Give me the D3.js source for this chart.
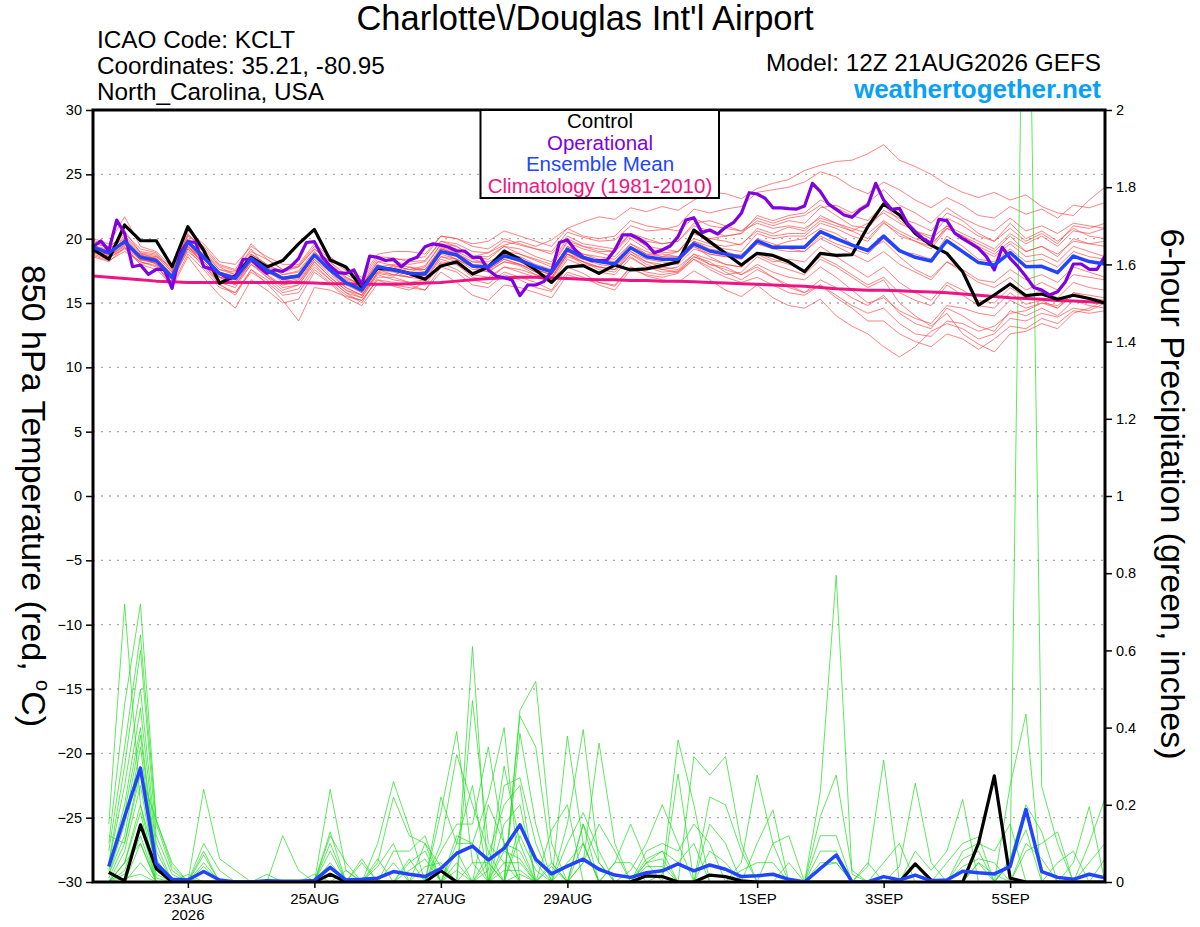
<!DOCTYPE html>
<html><head><meta charset="utf-8">
<script src="https://cdn.jsdelivr.net/npm/d3@7"></script>
<style>body{margin:0;background:#fff}svg{display:block}text{font-family:"Liberation Sans",Arial,Helvetica,sans-serif}</style>
</head><body>
<svg id="c" width="1200" height="927"></svg>
<script>
// ---------------- DATA ----------------
const tempTicks = [-30,-25,-20,-15,-10,-5,0,5,10,15,20,25,30];
const precipTicks = [0,0.2,0.4,0.6,0.8,1,1.2,1.4,1.6,1.8,2];
const xTickHours = [36,84,132,180,252,300,348];
const xTickLabels = ["23AUG","25AUG","27AUG","29AUG","1SEP","3SEP","5SEP"];
const legendLabels = ["Control","Operational","Ensemble Mean","Climatology (1981-2010)"];

// 850 hPa temperature, 6-hourly from 12Z 21AUG (hour 0..384)
const controlTemp = [19.17,18.4,21.06,19.84,19.84,17.82,20.93,19.1,16.53,17.1,18.55,17.8,18.3,19.6,20.72,18.34,17.8,16.2,17.7,17.6,17.3,16.84,17.88,18.2,17.25,17.8,19.04,18.4,17.57,16.6,17.8,17.9,17.3,17.95,17.57,17.65,17.9,18.2,20.67,19.77,18.86,17.95,18.86,18.7,18.2,17.43,18.86,18.7,18.75,20.93,22.7,21.84,20.4,19.5,18.86,17.43,14.84,15.62,16.48,15.57,15.7,15.29,15.6,15.35,15.0];
const meanTemp = [19.33,18.9,19.77,18.55,18.3,17.0,19.77,18.55,17.3,16.92,18.47,17.57,16.92,17.1,18.73,17.57,16.58,16.0,17.82,17.57,17.3,17.25,18.99,18.73,17.88,17.82,18.65,18.34,17.82,17.43,19.17,18.55,18.22,18.03,19.3,18.6,18.4,18.4,19.6,19.04,18.8,18.55,19.82,19.33,19.33,19.33,20.54,20.0,19.5,19.07,20.2,19.07,18.55,18.26,19.84,18.99,18.14,17.95,18.92,17.82,17.85,17.36,18.65,18.22,18.03];
const climTemp = [17.1,17.0,16.9,16.8,16.7,16.65,16.6,16.6,16.6,16.6,16.6,16.6,16.6,16.6,16.55,16.5,16.5,16.45,16.45,16.45,16.5,16.55,16.6,16.7,16.8,16.9,16.95,17.0,17.0,16.95,16.9,16.85,16.8,16.8,16.75,16.75,16.7,16.7,16.65,16.6,16.55,16.5,16.45,16.4,16.35,16.3,16.2,16.1,16.05,16.0,16.0,15.95,15.9,15.85,15.8,15.7,15.6,15.5,15.4,15.35,15.3,15.2,15.15,15.1,15.0];
// operational, 3-hourly (hour 0..384)
const operTemp = [
19.38,19.82,19.07,21.45,20.41,17.82,17.95,17.23,
17.62,17.62,16.14,18.86,19.77,19.7,17.82,17.62,
17.3,16.96,17.0,18.4,18.4,17.82,17.3,17.57,
17.45,17.82,18.45,19.7,19.77,18.6,17.88,17.36,
17.3,17.57,16.4,18.65,18.55,18.3,18.4,17.82,
18.33,18.55,19.38,19.6,19.5,19.33,19.04,19.04,
18.55,18.55,17.57,17.1,16.96,16.79,15.57,16.4,
16.4,16.66,17.43,19.7,19.9,19.12,18.55,18.3,
18.3,18.33,19.12,20.3,20.3,20.0,19.6,18.9,
19.12,19.43,20.16,21.45,21.63,20.47,20.67,20.36,
20.88,21.24,21.97,23.57,23.47,23.14,22.4,22.4,
22.33,22.3,22.54,24.3,23.65,22.7,22.28,21.84,
21.66,22.23,22.6,24.3,23.0,22.28,22.36,21.19,
20.54,20.0,19.64,21.5,21.4,20.42,20.0,19.64,
19.25,18.6,17.57,19.33,18.47,17.82,17.05,16.2,
16.0,15.62,15.88,16.66,18.03,18.03,17.62,17.62,
18.65];
// ensemble members, 6-hourly
const memberTemp = [
[19.6,19.4,20.2,19.0,18.8,17.6,20.3,19.2,17.9,17.5,19.0,18.4,17.6,17.9,19.4,18.4,17.5,16.8,18.6,18.5,18.2,18.3,19.8,19.6,19.0,18.9,19.8,19.5,19.2,19.0,20.5,20.1,19.8,19.9,21.0,20.6,20.7,21.0,22.3,22.0,22.3,22.5,23.6,23.8,24.0,24.4,25.2,24.8,24.0,23.5,24.4,23.8,23.0,22.4,23.2,22.6,21.8,21.6,22.5,21.9,22.3,21.6,22.6,22.4,22.8],
[19.1,18.6,19.5,18.8,18.0,16.8,19.5,18.0,16.6,16.2,18.0,17.0,16.0,16.4,18.2,17.0,16.0,15.4,17.4,17.9,17.6,17.9,19.5,19.2,18.6,18.9,19.5,19.8,19.4,19.9,20.8,21.3,21.7,21.5,22.4,22.1,22.5,22.2,23.0,23.6,23.5,23.1,23.9,24.3,24.6,25.3,25.7,26.0,26.1,26.6,27.3,26.1,25.6,25.0,24.2,23.6,23.2,23.6,23.0,23.4,22.5,22.0,21.8,23.0,24.0],
[18.9,18.5,19.2,18.2,17.9,16.6,19.4,18.0,16.5,15.6,17.6,16.8,15.8,16.1,17.8,16.8,15.8,15.0,17.0,17.0,16.6,16.4,18.1,17.6,16.8,16.5,17.4,17.0,16.6,16.0,17.8,17.3,16.6,16.3,17.8,17.1,16.8,16.6,17.5,16.8,16.0,15.5,16.4,15.4,14.8,14.6,15.3,14.0,13.2,12.6,11.6,10.8,11.6,12.8,13.4,13.0,12.2,12.6,13.8,13.6,14.2,13.9,14.6,14.4,15.0],
[19.4,19.0,20.6,18.9,18.4,17.3,20.0,19.0,17.8,17.2,18.8,18.0,17.2,17.5,19.0,17.8,16.9,16.4,18.0,17.5,17.2,17.0,18.6,18.2,17.4,17.5,18.2,17.9,17.2,16.9,18.8,18.0,17.8,17.6,19.0,18.2,18.0,18.3,19.4,18.6,18.0,17.8,18.9,18.4,18.0,17.6,18.6,18.0,17.2,16.4,17.0,15.8,15.2,14.8,16.4,15.6,14.8,14.6,15.8,14.9,15.2,14.6,15.8,15.4,15.2],
[19.8,19.2,20.0,18.4,18.6,17.8,19.6,18.8,17.0,16.4,18.2,17.2,16.4,16.8,18.4,17.2,16.2,15.6,17.3,17.1,17.8,17.6,19.3,19.0,18.4,18.0,19.0,18.8,18.3,17.8,19.7,19.2,18.9,18.6,20.0,19.2,18.9,19.0,20.4,20.0,19.8,19.5,20.8,20.4,20.9,20.6,21.8,21.2,20.6,20.0,21.3,20.2,19.8,19.2,20.8,20.2,19.6,19.0,20.2,19.0,19.4,18.6,20.0,19.6,19.4],
[18.6,18.2,19.3,18.0,17.6,16.4,18.8,17.6,16.2,15.8,17.6,16.5,15.2,13.6,16.2,16.0,15.5,15.2,16.8,16.3,16.0,16.6,18.2,18.0,17.0,16.8,17.8,17.4,17.0,16.6,18.4,17.9,17.4,17.2,18.5,17.8,17.4,17.5,18.6,18.2,17.4,16.8,17.6,17.0,16.4,15.8,16.8,16.2,15.4,14.8,15.6,14.2,13.4,13.0,14.6,14.0,13.2,12.8,14.4,14.0,14.6,14.0,15.2,14.8,14.6],
[19.0,18.8,19.6,18.6,18.0,16.2,18.6,17.0,15.6,14.6,16.8,16.0,15.0,15.3,17.4,16.5,15.4,14.8,16.5,16.4,16.2,16.0,17.8,17.4,16.4,16.2,17.2,16.8,16.2,15.9,17.4,17.0,16.4,16.0,17.6,17.2,17.0,17.3,18.4,17.8,17.2,17.4,18.6,18.0,17.6,17.2,18.4,17.8,17.0,16.2,16.8,15.0,14.0,13.2,14.2,12.6,11.8,11.2,12.6,12.8,13.4,13.0,14.2,14.6,15.2],
[20.0,19.6,21.7,19.4,19.0,17.8,20.6,19.6,18.2,18.0,19.4,18.6,18.0,18.0,19.6,18.6,17.6,17.0,18.8,19.0,19.0,18.8,20.2,20.0,19.4,19.2,20.0,19.6,19.2,18.8,20.2,19.6,19.4,19.2,20.4,20.0,19.6,19.8,21.0,20.6,20.2,20.4,21.4,21.0,21.4,21.2,22.4,22.6,22.0,22.8,23.8,22.6,22.0,21.2,22.4,21.6,21.0,20.6,21.6,20.6,21.0,20.4,21.2,21.0,20.8],
[19.2,18.6,19.4,18.0,18.2,17.2,19.2,18.2,17.0,16.8,18.6,17.8,16.8,16.6,18.4,17.4,16.2,15.6,17.6,17.2,17.0,17.2,19.0,18.4,17.6,17.6,18.4,18.0,17.6,17.2,19.0,18.4,18.0,17.8,19.0,18.4,18.2,18.0,19.2,18.8,18.6,18.8,19.6,19.4,19.8,20.0,20.8,20.4,19.6,19.2,19.8,18.6,17.6,17.0,18.2,17.4,16.6,16.2,17.0,16.0,16.6,16.0,17.2,17.0,16.8],
[18.8,18.4,20.0,18.8,18.6,17.4,20.4,19.0,17.6,17.4,19.2,17.6,17.0,17.2,18.8,17.6,16.8,16.2,17.8,18.0,17.8,17.4,19.2,18.8,18.2,18.2,18.8,18.6,18.0,17.6,19.4,18.8,18.6,18.4,19.6,18.8,18.8,18.6,19.8,19.2,19.0,18.6,20.0,19.6,19.2,19.0,20.2,19.6,19.2,18.8,20.0,19.0,18.8,18.4,20.2,19.4,18.4,18.2,19.2,18.2,18.4,17.8,19.0,18.6,18.4],
[19.5,19.0,19.9,18.4,18.1,16.8,19.9,18.4,17.2,16.6,18.2,17.4,16.8,17.0,18.6,17.8,16.6,15.8,17.6,17.8,17.4,17.8,19.6,19.4,18.6,18.4,19.4,19.2,18.6,18.2,20.0,19.4,19.0,19.0,20.4,19.8,19.6,19.8,21.2,21.4,21.0,20.6,21.6,21.2,21.6,21.8,22.6,21.8,21.0,20.8,22.2,21.6,21.2,20.6,22.0,21.4,20.4,19.8,21.2,20.0,20.6,19.8,20.8,20.2,20.0],
[19.0,18.8,19.8,18.6,18.4,17.0,19.6,18.4,17.2,16.8,18.4,17.6,16.6,16.9,18.6,17.4,16.4,15.8,17.6,17.4,17.0,16.8,18.4,18.0,17.2,17.0,17.8,17.6,17.2,16.8,18.6,18.2,17.8,17.6,18.8,18.0,17.6,17.4,18.4,17.6,17.0,16.6,17.0,16.4,15.8,15.6,16.4,15.4,14.6,13.6,13.6,12.6,12.0,11.6,12.6,12.2,11.4,12.2,13.2,13.0,13.8,13.4,14.4,14.2,14.4],
[19.3,19.1,19.6,18.3,18.2,17.1,19.4,18.4,17.0,16.4,18.0,17.2,16.2,16.4,18.0,16.8,15.8,15.4,17.2,16.8,16.6,16.8,18.6,18.4,17.8,17.4,18.2,18.0,17.4,17.0,18.8,18.4,18.2,18.0,19.4,18.8,18.6,18.6,19.8,19.4,19.2,19.0,20.4,20.0,20.2,20.2,21.2,20.8,20.2,19.8,21.2,20.4,19.8,19.4,21.0,20.0,19.2,18.6,19.6,18.6,18.8,18.2,19.4,19.0,18.6],
[19.6,18.8,19.7,18.7,18.4,16.9,19.7,18.7,17.4,17.1,18.7,17.9,17.2,17.4,18.9,17.9,17.0,16.4,18.2,17.9,17.6,17.6,19.2,18.9,18.2,18.0,18.8,18.4,17.8,17.5,19.4,18.8,18.4,18.2,19.6,19.0,18.6,19.0,20.4,20.0,20.2,20.4,21.8,21.4,21.8,22.0,23.0,22.4,21.8,21.4,22.6,21.4,20.6,20.2,21.6,21.0,20.2,19.8,20.8,19.8,20.4,19.6,21.0,20.8,21.2],
[18.7,18.3,19.0,18.2,17.8,16.6,19.2,17.8,16.4,15.8,17.4,16.6,15.6,15.8,17.6,16.6,15.6,15.2,16.8,16.6,16.4,16.0,17.4,16.6,15.6,15.2,16.4,16.2,15.8,15.4,17.2,16.8,16.6,16.4,17.8,17.4,17.2,17.4,18.6,18.0,17.8,17.2,18.0,17.4,17.0,16.8,17.8,17.0,16.0,15.0,15.4,14.4,13.8,13.4,14.8,14.6,14.2,14.0,15.2,14.6,15.0,14.6,15.6,15.4,15.0],
[19.9,19.3,20.4,19.2,18.9,17.5,20.2,19.4,18.0,17.6,19.6,18.4,17.6,17.8,19.2,18.2,17.2,16.6,18.4,18.2,18.0,18.2,19.8,19.4,18.6,18.6,19.4,18.8,18.4,18.0,19.8,19.4,19.2,19.0,20.2,19.4,19.2,19.0,20.0,19.6,19.4,19.6,20.6,20.2,20.4,20.4,21.4,21.0,20.6,21.2,22.0,21.2,20.6,20.0,21.0,20.4,19.8,19.2,20.4,19.6,20.2,19.4,20.6,20.4,20.8],
[19.2,18.7,19.5,18.5,18.3,17.0,19.0,18.0,16.8,16.6,18.2,17.0,16.4,16.6,18.2,17.0,16.0,15.6,17.4,17.2,17.0,17.2,18.8,18.4,17.8,17.8,18.6,18.2,17.6,17.2,18.8,18.2,17.8,17.6,18.6,17.8,17.6,17.8,18.8,18.0,17.6,17.2,17.8,17.0,16.2,15.8,16.4,15.6,14.8,14.2,14.6,13.4,12.6,12.4,13.6,13.4,12.8,13.2,14.2,14.4,15.0,14.8,15.8,15.6,15.4],
[19.4,19.2,20.1,18.9,18.7,17.4,19.8,18.8,17.6,17.2,18.8,18.0,17.4,17.8,19.2,18.2,17.0,16.4,18.2,18.4,18.4,18.6,20.2,20.0,19.6,19.8,20.6,20.2,19.8,19.4,20.8,20.2,20.0,20.2,21.4,21.0,20.8,20.6,21.6,21.0,20.8,20.6,21.2,20.8,21.0,20.8,21.6,21.2,20.8,20.4,21.4,20.6,20.0,19.6,20.8,20.2,19.4,18.8,19.8,19.0,19.4,18.8,19.8,19.6,19.8],
[19.1,18.5,19.3,18.4,18.1,16.8,19.6,18.2,17.0,16.8,18.4,17.4,16.8,17.0,18.6,17.6,16.6,16.2,17.8,17.6,17.4,17.4,19.2,18.8,18.0,17.8,18.6,18.2,17.6,17.2,19.0,18.4,18.2,18.0,19.2,18.6,18.4,18.2,19.4,18.8,18.6,18.4,19.6,19.2,19.0,19.0,20.0,19.4,18.8,18.2,19.0,18.0,17.4,16.8,18.2,17.6,16.8,16.6,17.6,16.8,17.2,16.6,17.8,17.4,17.0],
[18.9,18.9,19.9,18.7,18.5,17.2,19.3,18.4,17.4,17.0,18.6,17.8,17.0,17.2,18.8,17.6,16.6,16.0,17.8,17.6,17.2,17.4,19.0,18.6,17.8,17.6,18.4,18.0,17.4,17.0,18.8,18.2,17.6,17.4,18.8,18.2,17.8,17.6,18.8,18.4,18.0,17.8,18.8,18.2,18.4,18.2,19.4,18.6,17.8,17.0,17.8,16.6,15.8,15.2,16.6,16.0,15.2,15.0,16.2,15.4,16.0,15.4,16.6,16.2,16.0]
];

// 6-hour precipitation (inches), hours 6..384
const controlPrecip = [0.025,0.003,0.148,0.035,0,0,0,0, 0,0,0,0,0,0,0.02,0, 0,0,0,0,0,0.029,0,0, 0,0,0,0,0,0,0,0, 0,0,0.016,0.014,0,0,0.018,0.014, 0.003,0,0,0,0,0,0,0, 0,0,0,0.047,0.005,0,0,0.1, 0.275,0.01,0,0,0,0,0,0];
const meanPrecip = [0.04,0.169,0.295,0.048,0.007,0.005,0.027,0.005, 0,0,0.003,0.002,0.002,0.004,0.038,0.005, 0.007,0.01,0.027,0.02,0.014,0.035,0.074,0.093, 0.057,0.087,0.148,0.059,0.021,0.041,0.059,0.033, 0.018,0.012,0.024,0.029,0.047,0.029,0.044,0.033, 0.014,0.016,0.02,0.007,0,0.035,0.07,0, 0,0.014,0.005,0.018,0.003,0.005,0.028,0.024, 0.021,0.04,0.188,0.027,0.012,0.007,0.02,0.011];
const memberPrecip = [
[.15,.72,.20,.05,0,0,0,0, 0,0,0,0,0,0,.24,.03, 0,0,0,0,0,0,0,.61, 0,.10,0,0,0,.378,.10,0, 0,0,.04,.04,0,0,0,0, 0,0,0,0,0,0,0,0, 0,0,0,0,0,0,.04,.06, .05,0,0,0,0,0,0,0],
[.10,.46,.72,.16,.05,0,0,0, 0,0,0,0,0,0,.13,0, .06,0,0,0,0,0,0,.47, .10,.05,0,0,.135,.20,0,0, 0,0,0,.02,.368,.20,0,0, 0,0,0,0,0,0,0,0, 0,0,0,0,0,0,0,.05, .02,0,0,0,0,0,0,0],
[.08,.35,.64,.15,.03,0,0,0, 0,0,0,0,0,0,.12,.05, 0,0,0,0,0,.22,.10,.25, 0,0,.445,.52,.10,0,0,0, 0,0,0,0,0,.325,.277,.325, .10,0,0,0,0,0,0,0, 0,0,0,0,0,0,0,.05, 0,0,0,0,0,0,0,0],
[.05,.30,.60,.12,.02,0,0,0, 0,0,0,0,0,0,.10,0, 0,0,0,0,0,.18,.39,.05, 0,0,.43,.35,.05,0,0,0, 0,0,0,0,.28,0,0,0, 0,0,0,0,0,0,0,0, 0,0,0,0,0,0,0,0, 0,.25,.435,0,0,0,0,0],
[.05,.25,.50,.10,0,.02,0,0, 0,0,0,0,0,0,.08,0, 0,0,0,0,0,.10,.33,.20, .08,0,.385,.15,0,0,0,0, 0,0,0,0,0,0,.22,.20, .08,0,0,0,0,0,0,0, 0,0,0,0,0,0,0,0, 0,.06,.20,.13,0,0,0,0],
[.04,.20,.45,.08,0,.01,0,0, 0,0,0,0,0,0,.05,0, 0,0,0,0,0,.08,.15,.15, .35,.10,0,0,0,.15,.395,.05, 0,0,0,0,0,0,.15,.10, 0,0,0,0,0,0,0,0, 0,0,0,0,0,0,0,0, 0,.05,.135,0,0,0,0,0],
[.03,.18,.40,.06,0,0,.24,.06, .03,0,0,0,0,0,.04,0, 0,0,0,0,0,0,.12,.10, .22,.40,0,0,0,.10,.18,.08, 0,0,0,0,0,0,0,0, .05,.277,.10,0,0,0,0,0, 0,0,0,0,0,0,0,0, 0,0,.10,.06,0,0,0,0],
[.02,.15,.38,.05,0,0,.10,.03, 0,0,0,0,0,0,0,0, .05,0,0,0,0,0,.10,.10, 0,.25,.27,.10,0,0,.15,0, 0,0,0,0,0,0,0,0, 0,.10,.187,0,0,0,0,0, 0,0,0,0,0,0,0,0, 0,0,.08,.10,.13,0,0,0],
[.02,.12,.35,.04,0,0,.08,0, 0,0,0,0,0,0,0,0, 0,.10,.26,.14,0,0,.08,0, .07,.20,.25,0,.05,0,.10,0, 0,0,0,0,0,0,0,0, 0,0,.10,.12,0,0,0,0, 0,0,0,0,0,0,0,0, 0,0,0,0,.05,.08,0,0],
[.12,.10,.30,.03,0,0,.07,0, 0,0,0,0,0,0,0,0, 0,.05,.22,.12,.10,0,.05,0, 0,.15,.20,0,0,.05,.10,0, 0,0,0,0,0,0,0,0, 0,0,0,.05,0,0,0,0, 0,0,0,0,0,0,0,0, 0,0,0,0,0,.05,.195,0],
[.01,.10,.28,.16,.04,0,.05,0, 0,0,0,0,0,0,0,0, 0,.04,.10,0,0,0,.03,0, .05,0,.15,.05,0,0,.05,.36, .10,0,0,0,0,0,0,0, 0,0,0,0,0,.234,.795,.02, 0,0,0,0,0,0,0,0, 0,0,0,0,0,0,.10,.217],
[0,.08,.25,.02,0,0,.04,0, 0,0,0,0,0,0,0,0, 0,.06,0,0,0,0,0,.05, .05,0,.12,.03,0,0,.05,.15, .08,0,0,0,0,0,0,0, 0,0,0,0,0,.17,.277,.03, 0,0,0,0,0,0,0,0, 0,0,0,0,0,0,.05,.10],
[0,.05,.20,.01,0,0,0,0, 0,0,.02,0,0,0,0,0, 0,0,.08,.08,.12,0,0,0, .03,.30,.10,0,0,0,.15,.05, 0,0,0,0,0,0,0,0, 0,0,0,0,0,.12,.12,0, .05,0,0,0,0,0,0,0, 0,0,0,0,0,0,0,.06],
[0,.05,.18,0,0,0,0,0, 0,0,0,.12,.03,0,0,0, 0,0,.05,0,0,0,0,0, .20,.10,.08,0,.04,0,0,0, .05,.15,.05,0,0,0,0,0, 0,0,0,0,0,.08,.08,0, .04,.316,0,0,0,0,0,0, 0,0,0,0,0,0,0,0],
[0,.03,.15,0,0,0,0,0, 0,0,0,0,0,.02,0,0, 0,0,0,.05,.08,0,0,0, 0,.08,.06,0,0,0,0,0, .05,.05,0,0,0,0,0,0, 0,0,0,0,0,.05,.05,0, 0,.05,.10,0,0,0,0,0, 0,0,0,0,0,0,0,0],
[0,.02,.12,0,0,0,0,0, 0,0,0,0,0,0,0,.03, 0,0,0,.06,0,0,0,0, 0,.05,.05,0,0,0,0,0, 0,.03,.10,.20,.10,0,0,0, 0,0,0,0,0,.04,.05,0, 0,0,.04,.256,.05,0,0,0, 0,0,0,0,0,0,0,0],
[0,0,.10,0,0,0,0,0, 0,0,0,0,0,0,0,0, 0,0,0,.03,.06,0,0,0, 0,.03,.03,0,0,0,0,0, 0,0,.08,.10,.08,.15,.10,0, 0,0,0,0,0,0,0,0, 0,0,0,.08,.03,.08,.214,0, 0,0,0,0,0,0,0,0],
[0,0,.05,0,0,0,0,0, 0,0,0,0,0,0,0,0, 0,0,0,0,.04,.05,0,0, 0,0,.02,0,0,0,0,0, 0,0,.06,.08,.05,.10,0,0, 0,0,0,0,0,0,0,0, 0,0,0,0,0,.05,.10,.117, 0,0,0,0,0,0,0,0],
[0,.01,.02,0,0,0,0,0, 0,0,0,0,0,0,0,0, 0,0,0,0,.10,.04,0,0, 0,0,0,0,0,0,0,0, 0,0,.05,.08,0,0,.08,.05, 0,0,0,0,0,0,0,0, 0,0,0,0,0,0,.08,.10, .08,.15,0,0,0,0,0,0],
[0,.05,.10,0,0,0,0,0, 0,0,0,0,0,0,0,0, 0,0,0,0,0,.03,0,0, 0,0,0,0,0,0,0,0, 0,0,.05,.06,0,0,0,0, .03,.05,.05,0,0,0,0,0, 0,0,0,0,0,0,.06,.08, 0,.05,3.0,.247,.10,0,0,0]
];

// ---------------- CHART ----------------
const L=93, R=1105, T=110, B=882;
const FONT = '"Liberation Sans", Arial, Helvetica, sans-serif';
const svg = d3.select("#c");
const x = d3.scaleLinear().domain([0,384]).range([L,R]);
const yT = d3.scaleLinear().domain([-30,30]).range([B,T]);
const yP = d3.scaleLinear().domain([0,2]).range([B,T]);

const tempHours = controlTemp.map((d,i)=>i*6);
const operHours = operTemp.map((d,i)=>i*3);
const precipHours = meanPrecip.map((d,i)=>(i+1)*6);

svg.append("defs").append("clipPath").attr("id","plotclip")
  .append("rect").attr("x",L).attr("y",T).attr("width",R-L).attr("height",B-T);

// grid
svg.append("g").selectAll("line").data(tempTicks.filter(v=>v>-30&&v<30)).join("line")
  .attr("x1",L).attr("x2",R).attr("y1",d=>yT(d)).attr("y2",d=>yT(d))
  .attr("stroke","#aaa").attr("stroke-width",1.3).attr("stroke-dasharray","2,6");

const plot = svg.append("g").attr("clip-path","url(#plotclip)");

const lineT = hrs => d3.line().x((d,i)=>x(hrs[i])).y(d=>yT(d));
const lineP = d3.line().x((d,i)=>x(precipHours[i])).y(d=>yP(d));

// members
plot.append("g").selectAll("path").data(memberTemp).join("path")
  .attr("d", lineT(tempHours)).attr("fill","none")
  .attr("stroke","#ff4545").attr("stroke-opacity",0.85).attr("stroke-width",0.8);
plot.append("g").selectAll("path").data(memberPrecip).join("path")
  .attr("d", lineP).attr("fill","none")
  .attr("stroke","#22dd22").attr("stroke-opacity",0.9).attr("stroke-width",0.8);

// main lines
const mainW = 3.2;
plot.append("path").datum(climTemp).attr("d",lineT(tempHours)).attr("fill","none")
  .attr("stroke","#ee1483").attr("stroke-width",3).attr("stroke-linejoin","round");
plot.append("path").datum(controlPrecip).attr("d",lineP).attr("fill","none")
  .attr("stroke","#000").attr("stroke-width",mainW).attr("stroke-linejoin","round");
plot.append("path").datum(meanPrecip).attr("d",lineP).attr("fill","none")
  .attr("stroke","#2244ff").attr("stroke-width",3.5).attr("stroke-linejoin","round");
plot.append("path").datum(controlTemp).attr("d",lineT(tempHours)).attr("fill","none")
  .attr("stroke","#000").attr("stroke-width",mainW).attr("stroke-linejoin","round");
plot.append("path").datum(operTemp).attr("d",lineT(operHours)).attr("fill","none")
  .attr("stroke","#8000e0").attr("stroke-width",mainW).attr("stroke-linejoin","round");
plot.append("path").datum(meanTemp).attr("d",lineT(tempHours)).attr("fill","none")
  .attr("stroke","#2244ff").attr("stroke-width",3.5).attr("stroke-linejoin","round");

// axes
function styleAxis(g, fs){
  g.select(".domain").remove();
  g.selectAll(".tick line").attr("stroke","#000").attr("stroke-width",1.5);
  g.selectAll(".tick text").attr("font-family",FONT).attr("font-size",fs).attr("fill","#000");
}
svg.append("g").attr("transform",`translate(${L},0)`)
  .call(d3.axisLeft(yT).tickValues(tempTicks).tickSize(7).tickPadding(4).tickFormat(d3.format("d")))
  .call(g=>styleAxis(g,14.5));
svg.append("g").attr("transform",`translate(${R},0)`)
  .call(d3.axisRight(yP).tickValues(precipTicks).tickSize(7).tickPadding(4).tickFormat(d=>String(+d.toFixed(1))))
  .call(g=>styleAxis(g,14.5));
svg.append("g").attr("transform",`translate(0,${B})`)
  .call(d3.axisBottom(x).tickValues(xTickHours).tickSize(6).tickPadding(5).tickFormat((d,i)=>xTickLabels[i]))
  .call(g=>styleAxis(g,15));
svg.append("text").attr("x",x(xTickHours[0])).attr("y",920).attr("text-anchor","middle")
  .attr("font-family",FONT).attr("font-size",15).text("2026");

// frame
svg.append("rect").attr("x",L).attr("y",T).attr("width",R-L).attr("height",B-T)
  .attr("fill","none").attr("stroke","#000").attr("stroke-width",3);

// legend
const legColors = ["#000","#8000e0","#2244ff","#ee1483"];
svg.append("rect").attr("x",480.5).attr("y",110).attr("width",238.5).attr("height",88)
  .attr("fill","#fff").attr("stroke","#000").attr("stroke-width",2);
svg.append("g").selectAll("text").data(legendLabels).join("text")
  .attr("x",600).attr("y",(d,i)=>128+i*21.6).attr("text-anchor","middle")
  .attr("font-family",FONT).attr("font-size",20.5).attr("fill",(d,i)=>legColors[i]).text(d=>d);

// titles
svg.append("text").attr("x",585).attr("y",30).attr("text-anchor","middle")
  .attr("font-family",FONT).attr("font-size",34.5).text("Charlotte\\/Douglas Int'l Airport");
const info = ["ICAO Code: KCLT","Coordinates: 35.21, -80.95","North_Carolina, USA"];
svg.append("g").selectAll("text").data(info).join("text")
  .attr("x",97).attr("y",(d,i)=>48+i*26).attr("font-family",FONT).attr("font-size",24.3).text(d=>d);
svg.append("text").attr("x",1101).attr("y",71).attr("text-anchor","end")
  .attr("font-family",FONT).attr("font-size",24.3).text("Model: 12Z 21AUG2026 GEFS");
svg.append("text").attr("x",1101).attr("y",98).attr("text-anchor","end")
  .attr("font-family",FONT).attr("font-size",26).attr("font-weight","bold").attr("fill","#0aa0f6")
  .text("weathertogether.net");

// axis titles (rotated, reading top to bottom)
const lt = svg.append("text").attr("transform","translate(22,496) rotate(90)").attr("text-anchor","middle")
  .attr("font-family",FONT).attr("font-size",34);
lt.append("tspan").text("850 hPa Temperature (red, ");
lt.append("tspan").attr("font-size",20).attr("dy",-14).text("o");
lt.append("tspan").attr("dy",14).text("C)");
svg.append("text").attr("transform","translate(1161,494) rotate(90)").attr("text-anchor","middle")
  .attr("font-family",FONT).attr("font-size",34).text("6-hour Precipitation (green, inches)");
</script>
</body></html>
